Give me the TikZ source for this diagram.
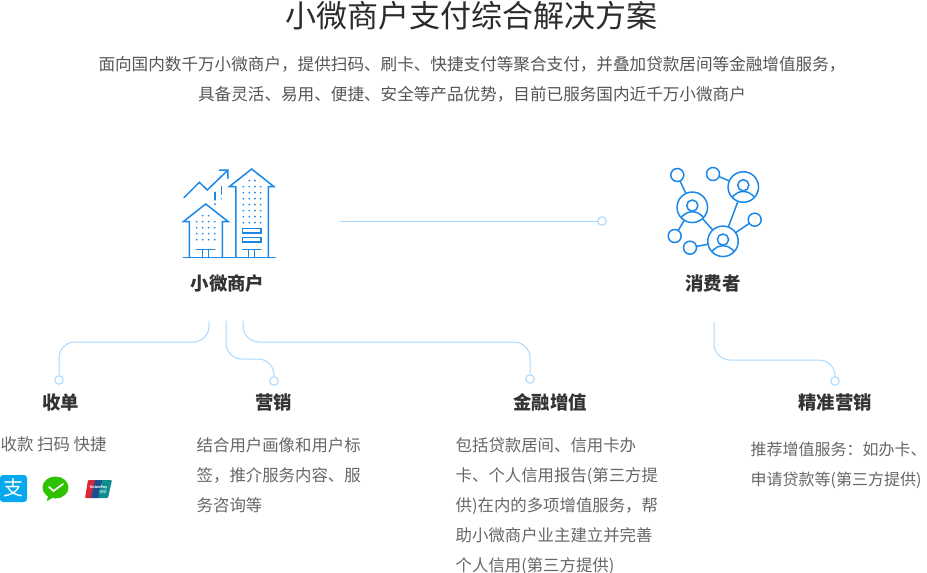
\documentclass[tikz,border=0pt]{standalone}
\usepackage{fontspec}
\setmainfont{Noto Sans CJK SC}
\definecolor{iconblue}{HTML}{1B87E6}
\definecolor{linkblue}{HTML}{A8D8FF}
\definecolor{titlegray}{HTML}{2B2B2B}
\definecolor{leadgray}{HTML}{555555}
\definecolor{headgray}{HTML}{333333}
\definecolor{bodygray}{HTML}{666666}
\definecolor{payblue}{HTML}{06A9F0}
\definecolor{paygreen}{HTML}{2DC100}
\definecolor{payred}{HTML}{D8283A}
\definecolor{paynavy}{HTML}{1B4F8F}
\definecolor{payteal}{HTML}{0E8C8F}
\tikzset{
	head/.style={font=\fontsize{18.4}{22}\selectfont\bfseries, text=headgray, inner sep=0pt},
	body/.style={font=\fontsize{16.4}{30}\selectfont, text=bodygray, inner sep=0pt, align=left, anchor=north west},
	lead/.style={font=\fontsize{16.6}{30}\selectfont, text=leadgray, inner sep=0pt, align=center},
	link/.style={draw=linkblue, line width=1pt, rounded corners=16pt},
	enddot/.style={circle, draw=linkblue, fill=white, line width=1pt, minimum size=8.5pt, inner sep=0pt},
	icon/.style={draw=iconblue, line width=1.5pt, line join=miter},
	bigring/.style={circle, draw=iconblue, line width=1.5pt, minimum size=30.5pt, inner sep=0pt},
	smallring/.style={circle, draw=iconblue, line width=1.5pt, minimum size=13pt, inner sep=0pt}
}
\newcommand{\personin}[1]{%
	\begin{scope}
	\clip (#1) circle (15pt);
	\draw[icon] (#1) ++(0,-1.7) circle (5.6pt);
	\draw[icon] (#1) ++(0,18.2) circle (13.7pt);
	\end{scope}}
\begin{document}
\begin{tikzpicture}[x=1pt,y=-1pt,line cap=round]
	\useasboundingbox (0,0) rectangle (927,573);
	% title and lead text
	\node[font=\fontsize{31}{36}\selectfont, text=titlegray, inner sep=0pt] (title) at (471.5,16) {小微商户支付综合解决方案};
	\node[lead] (intro) at (472,79) {面向国内数千万小微商户，提供扫码、刷卡、快捷支付等聚合支付，并叠加贷款居间等金融增值服务，\\具备灵活、易用、便捷、安全等产品优势，目前已服务国内近千万小微商户};
	% merchant icon
	\begin{scope}[shift={(160,150)},x=.3333pt,y=-.3333pt]
		\draw[icon] (70,323)--(345,323);
		\draw[icon] (228,323)--(228,110)--(208,110)--(275,57)--(342,110)--(325,110)--(325,323);
		\draw[icon] (88,323)--(88,215)--(70,215)--(137,162)--(205,215)--(187,215)--(187,323);
		\draw[icon] (72,143)--(118,97)--(142,120)--(202,62) (178,60)--(204,60)--(204,85);
		\draw[icon] (165,127)--(165,150) (165,162)--(165,163) (184,110)--(184,133) (184,146)--(184,147);
		\draw[icon] (247,235) rectangle (303,249) (247,262) rectangle (303,276);
		\draw[icon] (248,299)--(303,299) (265,299)--(265,323) (283,299)--(283,323);
		\draw[icon] (110,299)--(165,299) (127,299)--(127,323) (146,299)--(146,323);
		\foreach \y in {110,128,146,164,182,200,218} \foreach \x in {250,268,285,302}
			\fill[iconblue] (\x,\y) circle (.95pt);
		\foreach \x in {268,285} \fill[iconblue] (\x,92) circle (.95pt);
		\foreach \y in {215,233,251,269} \foreach \x in {110,128,146,164}
			\fill[iconblue] (\x,\y) circle (.95pt);
		\foreach \x in {128,146} \fill[iconblue] (\x,197) circle (.95pt);
	\end{scope}
	% consumer icon
	\node[bigring] (ringa) at (692.3,207.3) {};
	\node[bigring] (ringb) at (743.3,187) {};
	\node[bigring] (ringc) at (723,241.3) {};
	\node[smallring] (dota) at (677.3,175) {};
	\node[smallring] (dotb) at (713,174) {};
	\node[smallring] (dotc) at (674.7,236) {};
	\node[smallring] (dotd) at (690,247.7) {};
	\node[smallring] (dote) at (754.7,219.7) {};
	\draw[icon] (dota)--(ringa) (dotb)--(ringb) (dotc)--(ringa) (dotd)--(ringc) (dote)--(ringc) (ringa)--(ringc) (ringb)--(ringc);
	\personin{ringa.center}
	\personin{ringb.center}
	\personin{ringc.center}
	% main labels
	\node[head] (merchant) at (227.5,283.5) {小微商户};
	\node[head] (consumer) at (713,283.5) {消费者};
	\node[head] (shoudan) at (60.5,402.5) {收单};
	\node[head] (yingxiao) at (273.5,402.5) {营销};
	\node[head] (jinrong) at (550,402.5) {金融增值};
	\node[head] (jingzhun) at (835,402.5) {精准营销};
	% connectors
	\node[enddot] (dotmid) at (602,221) {};
	\node[enddot] (dotshou) at (59,380) {};
	\node[enddot] (dotying) at (274,381) {};
	\node[enddot] (dotjin) at (530,379) {};
	\node[enddot] (dotjing) at (835,381) {};
	\coordinate (midstart) at (340,221);
	\coordinate (starta) at (209,321);
	\coordinate (startb) at (226,321);
	\coordinate (startc) at (243,321);
	\coordinate (startd) at (714,322);
	\draw[link] (midstart)--(dotmid);
	\draw[link] (starta)--(starta|-0,342)-|(dotshou);
	\draw[link] (startb)--(startb|-0,359)-|(dotying);
	\draw[link] (startc)--(startc|-0,342)-|(dotjin);
	\draw[link] (startd)--(startd|-0,360)-|(dotjing);
	% body text
	\node[body] (shoutext) at (0.5,437) {收款 扫码 快捷};
	\node[body] (yingtext) at (196.5,437) {结合用户画像和用户标\\签，推介服务内容、服\\务咨询等};
	\node[body] (jintext) at (455.5,437) {包括贷款居间、信用卡办\\卡、个人信用报告(第三方提\\供)在内的多项增值服务，帮\\助小微商户业主建立并完善\\个人信用(第三方提供)};
	\node[body, font=\fontsize{16}{30}\selectfont] (jingtext) at (750.5,442) {推荐增值服务：如办卡、\\申请贷款等(第三方提供)};
	% payment logos
	\fill[payblue, rounded corners=3pt] (0,475) rectangle (27,502);
	\node[font=\fontsize{20}{20}\selectfont, text=white, inner sep=0pt] (alipay) at (13.5,488) {支};
	\fill[paygreen] (55.5,487.5) ellipse (13 and 11);
	\fill[paygreen] (48,495)--(47,501)--(54,497)--cycle;
	\draw[white, line width=1.7pt] (49,487)--(53.5,491)--(63,484);
	\fill[payred, rounded corners=1pt] (88,480)--(97,480)--(93,498)--(85,498)--cycle;
	\fill[paynavy, rounded corners=1pt] (95,480)--(104,480)--(100,498)--(91,498)--cycle;
	\fill[payteal, rounded corners=1pt] (102,480)--(112,480)--(108,498)--(98,498)--cycle;
	\node[font=\fontsize{3.6}{4}\selectfont\bfseries, text=white, inner sep=0pt] (unionpay) at (98.5,487) {UnionPay};
	\node[font=\fontsize{3.6}{4}\selectfont, text=white, inner sep=0pt] (yinlian) at (103,492.5) {银联};
\end{tikzpicture}
\end{document}
